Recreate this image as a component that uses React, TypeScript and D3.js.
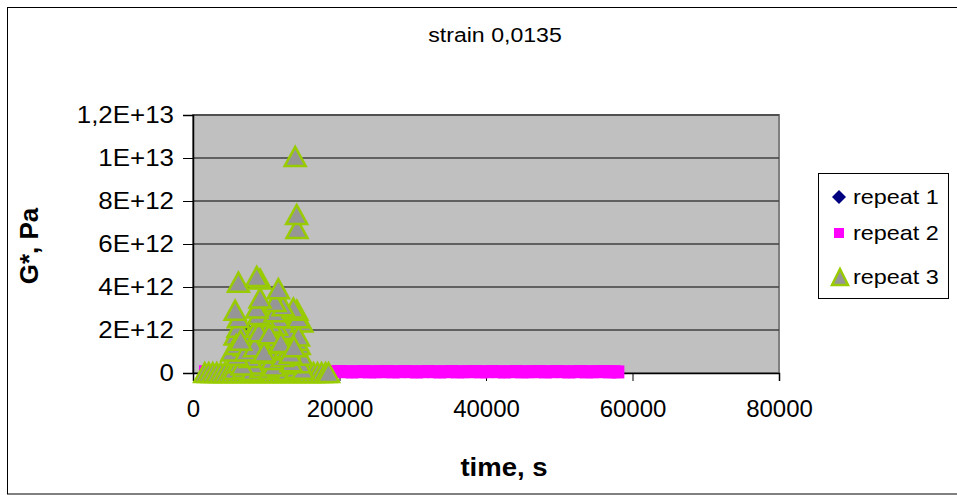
import * as React from 'react';
import * as d3 from 'd3';

// time (s) and G* (Pa)
const repeat1Time = [1800, 3500, 5200, 6400, 7400, 8600, 9800, 11000, 12300, 13600, 14900, 16200, 17500];
const repeat1Value = [0, 0, 0.2e12, 0.9e12, 2.0e12, 1.2e12, 0.5e12, 1.4e12, 0.8e12, 0.3e12, 0, 0, 0];

const repeat2Time = [
  1700, 2500, 3300, 4100, 4900, 5700, 6500, 7300, 8100, 8900, 9700, 10500, 11300, 12100, 12900,
  13700, 14500, 15300, 16100, 16900, 17700, 18500, 19300, 20100, 20900, 21700, 22500, 23300,
  24100, 24900, 25700, 26500, 27300, 28100, 28900, 29700, 30500, 31300, 32100, 32900, 33700,
  34500, 35300, 36100, 36900, 37700, 38500, 39300, 40100, 40900, 41700, 42500, 43300, 44100,
  44900, 45700, 46500, 47300, 48100, 48900, 49700, 50500, 51300, 52100, 52900, 53700, 54500,
  55300, 56100, 56900, 57500, 58000
];
const repeat2Value = [
  0.6e11, 0.5e11, 0.7e11, 0.6e11, 0.5e11, 0.7e11, 0.6e11, 0.5e11, 0.6e11, 0.7e11, 0.5e11, 0.6e11,
  0.7e11, 0.6e11, 0.5e11, 0.6e11, 0.7e11, 0.5e11, 0.6e11, 0.6e11, 0.7e11, 0.5e11, 0.6e11, 0.7e11,
  0.6e11, 0.5e11, 0.6e11, 0.7e11, 0.5e11, 0.6e11, 0.6e11, 0.7e11, 0.5e11, 0.6e11, 0.7e11, 0.6e11,
  0.5e11, 0.6e11, 0.7e11, 0.6e11, 0.5e11, 0.6e11, 0.7e11, 0.5e11, 0.6e11, 0.6e11, 0.7e11, 0.5e11,
  0.6e11, 0.7e11, 0.6e11, 0.5e11, 0.6e11, 0.7e11, 0.5e11, 0.6e11, 0.6e11, 0.7e11, 0.5e11, 0.6e11,
  0.7e11, 0.6e11, 0.5e11, 0.6e11, 0.7e11, 0.5e11, 0.6e11, 0.6e11, 0.7e11, 0.5e11, 0.6e11, 0.5e11
];

const repeat3Time = [
  1600, 2150, 2700, 3250, 3800, 4350, 4900, 5450, 6000, 6550, 7100, 7650, 8200, 8750, 9300, 9850,
  10400, 10950, 11500, 12050, 12600, 13150, 13700, 14250, 14800, 15350, 15900, 16450, 17000, 17550, 18100, 18500,
  5600, 6900, 8100, 9300, 10500, 11700, 12900, 14100, 15000, 6300, 7500, 8800, 10000, 11300, 12500, 13700, 14600,
  8200, 11000, 6700, 13400, 10800, 7800, 12200, 6000, 14800, 9400, 5300, 10300, 12600, 13100, 7000,
  14500, 14200, 9900, 11200, 8950, 7600, 5750, 13950, 12900, 6150, 8700, 11400, 10600, 14860,
  5900, 7200, 8400, 9700, 11900, 13300, 14400, 6500, 9000, 10400, 12000, 13800,
  6200, 11650, 14350, 9600, 8950, 11200, 5750, 8700, 14180, 13700, 12300, 11200, 9150, 11650,
  9150, 6200, 8700, 14200, 14150, 13950
];
const repeat3Value = [
  0, 0, 0, 0, 0, 0, 0, 0, 0, 0, 0, 0, 0, 0, 0, 0,
  0, 0, 0, 0, 0, 0, 0, 0, 0, 0, 0, 0, 0, 0, 0, 0,
  0.15e12, 0.2e12, 0.1e12, 0.25e12, 0.15e12, 0.2e12, 0.1e12, 0.2e12, 0.15e12, 0.45e12, 0.5e12, 0.55e12, 0.45e12, 0.5e12, 0.4e12, 0.55e12, 0.45e12,
  0.4e12, 0.3e12, 0.35e12, 0.5e12, 0.6e12, 0.7e12, 0.75e12, 0.8e12, 0.8e12, 0.9e12, 1.0e12, 1.05e12, 1.15e12, 1.1e12, 1.25e12,
  1.3e12, 1.5e12, 1.4e12, 1.6e12, 1.65e12, 1.6e12, 1.75e12, 1.9e12, 2.0e12, 2.1e12, 2.1e12, 2.2e12, 2.3e12, 2.35e12,
  1.3e12, 1.0e12, 1.2e12, 0.95e12, 1.35e12, 0.9e12, 1.7e12, 1.5e12, 1.9e12, 1.8e12, 1.4e12, 1.2e12,
  2.55e12, 2.55e12, 2.55e12, 2.6e12, 2.7e12, 2.82e12, 2.9e12, 3.0e12, 2.9e12, 3.0e12, 3.1e12, 3.3e12, 3.47e12, 3.9e12,
  4.35e12, 4.2e12, 4.47e12, 6.7e12, 7.35e12, 10.05e12
];

const xTicks = [0, 20000, 40000, 60000, 80000];
const yTicks = [0, 2e12, 4e12, 6e12, 8e12, 1e13, 1.2e13];
const legendLabels = ['repeat 1', 'repeat 2', 'repeat 3'];

const W = 957;
const H = 495;
const FONT = 'Arial, "Liberation Sans", sans-serif';

function sciLabel(v: number) {
  if (v === 0) return '0';
  const exp = Math.floor(Math.log10(v) + 1e-9);
  const m = +(v / Math.pow(10, exp)).toFixed(2);
  return `${String(m).replace('.', ',')}E+${exp}`;
}

const triPath = 'M0,-10L10.5,9L-10.5,9Z';
const diamondPath = 'M0,-7L7,0L0,7L-7,0Z';

export default function App() {
  const ref = React.useRef<SVGSVGElement>(null);

  React.useEffect(() => {
    const svg = d3.select(ref.current);
    svg.selectAll('*').remove();

    const x = d3.scaleLinear().domain([0, 80000]).range([193, 779]);
    const y = d3.scaleLinear().domain([0, 1.2e13]).range([373, 115]);

    // outer chart border
    svg.append('rect').attr('x', 7.5).attr('y', 7.5).attr('width', 1000).attr('height', 486.5)
      .attr('fill', '#fff').attr('stroke', '#000').attr('stroke-width', 1);

    // plot area
    svg.append('rect').attr('x', 193).attr('y', 115).attr('width', 586).attr('height', 258)
      .attr('fill', '#c0c0c0').attr('stroke', '#808080').attr('stroke-width', 2);

    svg.append('g').selectAll('line').data(yTicks.slice(1)).enter().append('line')
      .attr('x1', 193).attr('x2', 779).attr('y1', d => y(d)).attr('y2', d => y(d))
      .attr('stroke', '#404040').attr('stroke-width', 1.5);

    const yAxis = svg.append('g').attr('transform', 'translate(193,0)')
      .call(d3.axisLeft(y).tickValues(yTicks).tickFormat(d => sciLabel(+d)).tickSize(10).tickPadding(10));
    const xAxis = svg.append('g').attr('transform', 'translate(0,373)')
      .call(d3.axisBottom(x).tickValues(xTicks).tickFormat(d => String(d)).tickSize(8).tickPadding(19));
    [yAxis, xAxis].forEach(a => {
      a.select('.domain').attr('stroke', '#000').attr('stroke-width', 1.5);
      a.selectAll('.tick line').attr('stroke', '#000');
      a.selectAll('.tick text').attr('font-family', FONT).attr('font-size', 24).attr('fill', '#000');
    });
    // labels are drawn slightly wide in the reference
    yAxis.selectAll('.tick text').attr('x', -19 / 1.08).attr('transform', 'scale(1.08,1)');

    // series
    const s1 = repeat1Time.map((t, i) => [t, repeat1Value[i]]);
    const s2 = repeat2Time.map((t, i) => [t, repeat2Value[i]]);
    const s3 = repeat3Time.map((t, i) => [t, repeat3Value[i]]);

    svg.append('g').selectAll('path').data(s1).enter().append('path')
      .attr('d', diamondPath)
      .attr('transform', d => `translate(${x(d[0])},${y(d[1])})`)
      .attr('fill', '#000080');

    svg.append('g').selectAll('rect').data(s2).enter().append('rect')
      .attr('x', d => x(d[0]) - 6.5).attr('y', d => y(d[1]) - 6.5)
      .attr('width', 13).attr('height', 13)
      .attr('fill', '#ff00ff');

    svg.append('g').selectAll('path').data(s3).enter().append('path')
      .attr('d', triPath)
      .attr('transform', d => `translate(${x(d[0])},${y(d[1])})`)
      .attr('fill', '#969696').attr('stroke', '#99cc00').attr('stroke-width', 2.5)
      .attr('stroke-linejoin', 'miter');

    // title
    svg.append('text').attr('transform', 'translate(495,42) scale(1.1,1)')
      .attr('text-anchor', 'middle').attr('font-family', FONT).attr('font-size', 21)
      .text('strain 0,0135');

    // axis titles
    svg.append('text').attr('transform', 'translate(504,476) scale(1.1,1)')
      .attr('text-anchor', 'middle').attr('font-family', FONT).attr('font-size', 25)
      .attr('font-weight', 'bold').text('time, s');
    svg.append('text').attr('transform', 'translate(38,246) rotate(-90)')
      .attr('text-anchor', 'middle').attr('font-family', FONT).attr('font-size', 26)
      .attr('font-weight', 'bold').text('G*, Pa');

    // legend
    const lg = svg.append('g');
    lg.append('rect').attr('x', 818.5).attr('y', 173.5).attr('width', 130).attr('height', 125)
      .attr('fill', '#fff').attr('stroke', '#000').attr('stroke-width', 1);
    const rowsY = [197, 233, 277];
    lg.append('path').attr('d', diamondPath)
      .attr('transform', `translate(839,${rowsY[0]})`).attr('fill', '#000080');
    lg.append('rect').attr('x', 834).attr('y', rowsY[1] - 5).attr('width', 10).attr('height', 10)
      .attr('fill', '#ff00ff');
    lg.append('path').attr('d', 'M0,-8L8,8L-8,8Z')
      .attr('transform', `translate(840,${rowsY[2]})`)
      .attr('fill', '#969696').attr('stroke', '#99cc00').attr('stroke-width', 2.5);
    legendLabels.forEach((l, i) => {
      lg.append('text').attr('transform', `translate(853,${rowsY[i] + 7}) scale(1.17,1)`)
        .attr('font-family', FONT).attr('font-size', 20).text(l);
    });
  }, []);

  return (
    <div style={{ position: 'absolute', left: 0, top: 0 }}>
      <svg ref={ref} width={W} height={H} style={{ display: 'block' }} />
    </div>
  );
}
